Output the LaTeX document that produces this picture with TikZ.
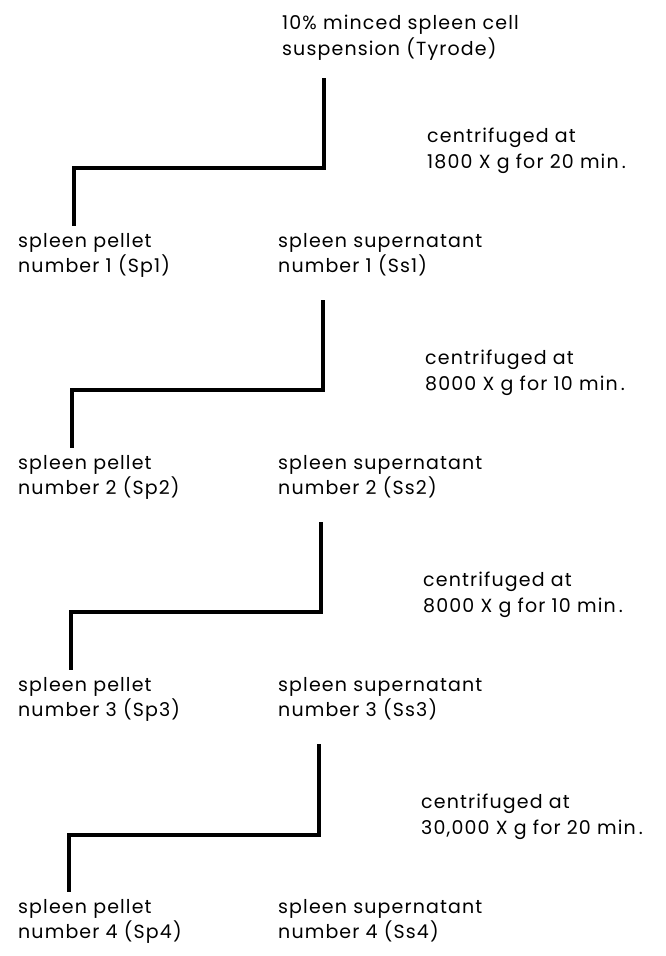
\documentclass[tikz,border=0pt]{standalone}
\usepackage{fontspec}
\setmainfont[LetterSpace=6]{Poppins}
\usepackage{tikz}
\usetikzlibrary{positioning}

\begin{document}
\begin{tikzpicture}[x=1pt, y=-1pt,
  lbl/.style={anchor=north west, inner sep=0pt, align=left, font=\fontsize{19}{25.5}\selectfont},
  stepline/.style={line width=3.5pt, line join=miter}]

\useasboundingbox (0,0) rectangle (665,956);

% --- starting material ---
\node[lbl] (susp) at (282, 15) {10\% minced spleen cell\\suspension (Tyrode)};

% --- first spin ---
\coordinate (c1top) at (324, 78);
\coordinate (c1bot) at (74, 226);
\draw[stepline] (c1top) -- (324, 168) -| (c1bot);
\node[lbl] (cent1) at (427, 128) {centrifuged at\\1800 X g for 20 min\,.};
\node[lbl] (sp1) at (18, 233) {spleen pellet\\number 1 (Sp1)};
\node[lbl] (ss1) at (278, 233) {spleen supernatant\\number 1 (Ss1)};

% --- second spin ---
\coordinate (c2top) at (323, 300);
\coordinate (c2bot) at (72, 448);
\draw[stepline] (c2top) -- (323, 390) -| (c2bot);
\node[lbl] (cent2) at (425, 350) {centrifuged at\\8000 X g for 10 min\,.};
\node[lbl] (sp2) at (18, 455) {spleen pellet\\number 2 (Sp2)};
\node[lbl] (ss2) at (278, 455) {spleen supernatant\\number 2 (Ss2)};

% --- third spin ---
\coordinate (c3top) at (321, 522);
\coordinate (c3bot) at (71, 670);
\draw[stepline] (c3top) -- (321, 612) -| (c3bot);
\node[lbl] (cent3) at (423, 572) {centrifuged at\\8000 X g for 10 min\,.};
\node[lbl] (sp3) at (18, 677) {spleen pellet\\number 3 (Sp3)};
\node[lbl] (ss3) at (278, 677) {spleen supernatant\\number 3 (Ss3)};

% --- fourth spin ---
\coordinate (c4top) at (319, 744);
\coordinate (c4bot) at (69, 892);
\draw[stepline] (c4top) -- (319, 835) -| (c4bot);
\node[lbl] (cent4) at (421, 794) {centrifuged at\\30,000 X g for 20 min\,.};
\node[lbl] (sp4) at (18, 899) {spleen pellet\\number 4 (Sp4)};
\node[lbl] (ss4) at (278, 899) {spleen supernatant\\number 4 (Ss4)};
\end{tikzpicture}
\end{document}
